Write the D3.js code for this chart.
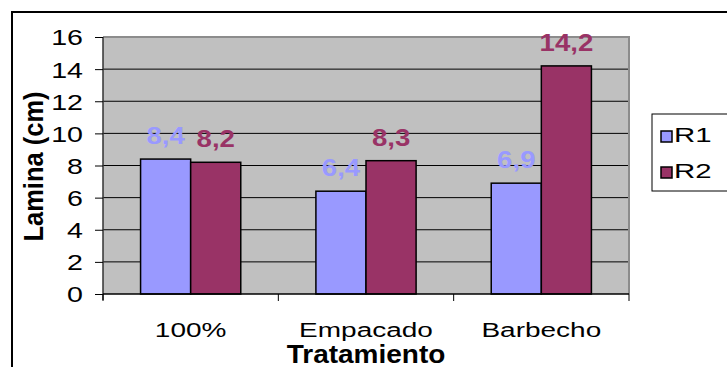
<!DOCTYPE html>
<html>
<head>
<meta charset="utf-8">
<script src="https://cdn.jsdelivr.net/npm/d3@7"></script>
<style>
  html, body { margin: 0; padding: 0; background: #fff; }
  svg { display: block; font-family: Arial, "Liberation Sans", Helvetica, sans-serif; }
</style>
</head>
<body>
<svg id="chart" width="727" height="367"></svg>
<script>
// Leaf length per treatment, two replicates
const categories = ["100%", "Empacado", "Barbecho"];
const series = ["R1", "R2"];
const r1Values = [8.4, 6.4, 6.9];
const r2Values = [8.2, 8.3, 14.2];
const yTicks = [0, 2, 4, 6, 8, 10, 12, 14, 16];
const seriesColors = ["#9999ff", "#993366"];

const svg = d3.select("#chart");
const W = 727, H = 367;
const plot = { left: 103, right: 629, top: 37, bottom: 294 };

const rows = categories.map((c, i) => ({ category: c, values: [r1Values[i], r2Values[i]] }));

const x0 = d3.scaleBand().domain(categories).range([plot.left, plot.right]).padding(0);
// Excel-style 150% gap: each category holds 2 bars plus 1.5 bar widths of gap
const barW = x0.bandwidth() / 3.5;
const x1 = d3.scaleBand().domain(series)
  .range([barW * 0.75, x0.bandwidth() - barW * 0.75]).padding(0);
const y = d3.scaleLinear().domain([0, 16]).range([plot.bottom, plot.top]);

const fmt = v => d3.format(".1f")(v).replace(".", ",");

// outer chart frame (left and top edges visible)
svg.append("path")
  .attr("d", `M12,${H + 2} L12,12 L${W + 2},12`)
  .attr("fill", "none").attr("stroke", "#000").attr("stroke-width", 2);

// plot area
svg.append("rect")
  .attr("x", plot.left).attr("y", plot.top)
  .attr("width", plot.right - plot.left).attr("height", plot.bottom - plot.top)
  .attr("fill", "#c0c0c0");

// gridlines
svg.append("g").selectAll("line")
  .data(yTicks.filter(t => t > 0 && t < 16))
  .join("line")
  .attr("x1", plot.left).attr("x2", plot.right)
  .attr("y1", d => y(d)).attr("y2", d => y(d))
  .attr("stroke", "#000").attr("stroke-width", 1);

// plot border (top and right)
svg.append("path")
  .attr("d", `M${plot.left},${plot.top} L${plot.right},${plot.top} L${plot.right},${plot.bottom}`)
  .attr("fill", "none").attr("stroke", "#8c8c8c").attr("stroke-width", 2);

// bars
const groups = svg.append("g").selectAll("g")
  .data(rows).join("g")
  .attr("transform", d => `translate(${x0(d.category)},0)`);

groups.selectAll("rect")
  .data(d => d.values.map((v, i) => ({ key: series[i], value: v, i })))
  .join("rect")
  .attr("x", d => x1(d.key))
  .attr("y", d => y(d.value))
  .attr("width", x1.bandwidth())
  .attr("height", d => y(0) - y(d.value))
  .attr("fill", d => seriesColors[d.i])
  .attr("stroke", "#000").attr("stroke-width", 1.5);

// value labels
groups.selectAll("text")
  .data(d => d.values.map((v, i) => ({ key: series[i], value: v, i })))
  .join("text")
  .attr("transform", d => `translate(${x1(d.key) + x1.bandwidth() / 2},${y(d.value) - 15}) scale(1.2,1)`)
  .attr("text-anchor", "middle")
  .attr("font-size", 23).attr("font-weight", "bold")
  .attr("fill", d => seriesColors[d.i])
  .text(d => fmt(d.value));

// y axis
const yAxis = svg.append("g")
  .attr("transform", `translate(${plot.left},0)`)
  .call(d3.axisLeft(y).tickValues(yTicks).tickSize(8).tickPadding(0).tickFormat(d3.format("d")));
yAxis.select(".domain").attr("stroke", "#333").attr("stroke-width", 1.5)
  .attr("d", `M0,${plot.top}V${plot.bottom + 6}`);
yAxis.selectAll(".tick line").attr("stroke", "#000");
yAxis.selectAll(".tick text")
  .attr("x", null).attr("dy", "0.36em")
  .attr("transform", "translate(-20,0) scale(1.3,1)")
  .attr("font-size", 22).attr("fill", "#000")
  .attr("font-family", null);

// x axis: baseline, boundary ticks and centred labels
svg.append("line")
  .attr("x1", plot.left).attr("x2", plot.right)
  .attr("y1", plot.bottom).attr("y2", plot.bottom)
  .attr("stroke", "#000").attr("stroke-width", 1.5);

const bounds = categories.map(c => x0(c)).concat([x0(categories[categories.length - 1]) + x0.bandwidth()]);
svg.append("g").selectAll("line")
  .data(bounds).join("line")
  .attr("x1", d => d).attr("x2", d => d)
  .attr("y1", plot.bottom).attr("y2", plot.bottom + 7)
  .attr("stroke", "#000").attr("stroke-width", 1);

const xAxis = svg.append("g")
  .attr("transform", `translate(0,${plot.bottom})`)
  .call(d3.axisBottom(x0).tickSize(0).tickPadding(0));
xAxis.select(".domain").remove();
xAxis.selectAll(".tick text")
  .attr("y", null).attr("dy", null)
  .attr("transform", "translate(0,43) scale(1.4,1)")
  .attr("font-size", 20).attr("fill", "#000")
  .attr("font-family", null);

// axis titles
svg.append("text")
  .attr("transform", `translate(${(plot.left + plot.right) / 2},362.5) scale(1.12,1)`)
  .attr("text-anchor", "middle")
  .attr("font-size", 25).attr("font-weight", "bold")
  .text("Tratamiento");

svg.append("text")
  .attr("transform", `translate(43,${(plot.top + plot.bottom) / 2 + 1}) rotate(-90) scale(1,1.1)`)
  .attr("text-anchor", "middle")
  .attr("font-size", 25.5).attr("font-weight", "bold")
  .text("Lamina (cm)");

// legend
const legend = svg.append("g");
legend.append("rect")
  .attr("x", 652).attr("y", 114).attr("width", 100).attr("height", 77)
  .attr("fill", "#fff").attr("stroke", "#000").attr("stroke-width", 1);
const items = legend.selectAll("g.item")
  .data(series).join("g").attr("class", "item")
  .attr("transform", (d, i) => `translate(661,${131 + i * 36})`);
items.append("rect")
  .attr("width", 11).attr("height", 11)
  .attr("fill", (d, i) => seriesColors[i])
  .attr("stroke", "#000").attr("stroke-width", 1.5);
items.append("text")
  .attr("transform", "translate(13,11) scale(1.4,1)")
  .attr("font-size", 21)
  .text(d => d);
</script>
</body>
</html>
